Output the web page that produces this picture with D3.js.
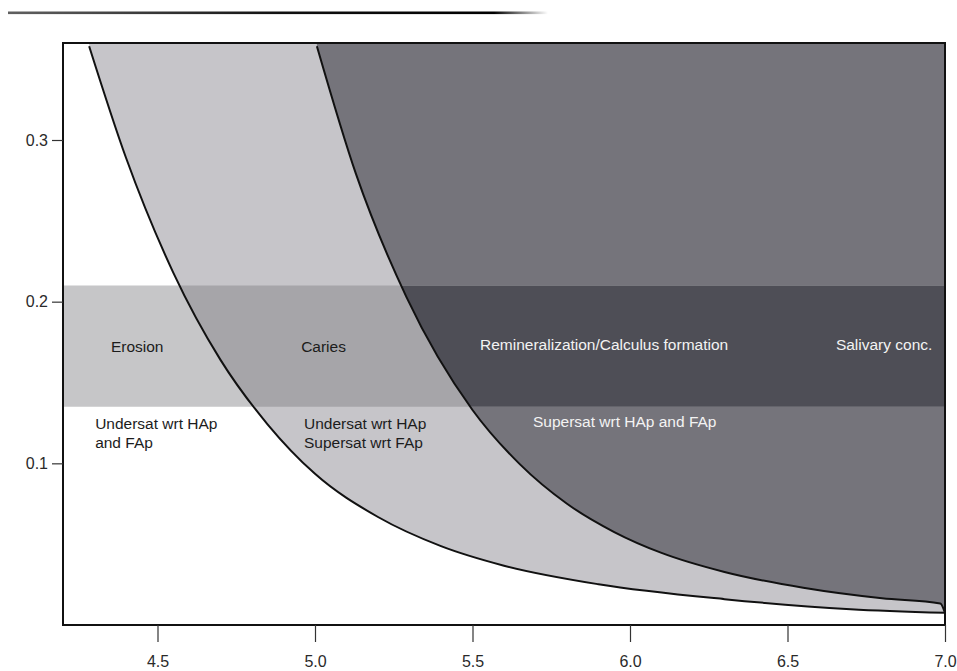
<!DOCTYPE html>
<html>
<head>
<meta charset="utf-8">
<script src="https://cdn.jsdelivr.net/npm/d3@7"></script>
<style>
  html, body { margin: 0; padding: 0; background: #ffffff; }
  svg { display: block; }
  text { font-family: "Liberation Sans", Arial, Helvetica, sans-serif; }
</style>
</head>
<body>
<svg id="chart" width="957" height="671"></svg>
<script>
// Axis ticks
const xTicks = [4.5, 5.0, 5.5, 6.0, 6.5, 7.0];
const yTicks = [0.1, 0.2, 0.3];

// Solubility isotherm of hydroxyapatite (HAp): pH vs concentration
const hapPH   = [4.283, 4.40, 4.55, 4.70, 4.85, 5.00, 5.20, 5.40, 5.60, 5.90, 6.30, 6.70, 7.00];
const hapConc = [0.358, 0.289, 0.218, 0.164, 0.124, 0.0935, 0.0668, 0.0488, 0.0367, 0.0252, 0.0160, 0.0098, 0.0075];

// Solubility isotherm of fluorapatite (FAp)
const fapPH   = [5.006, 5.13, 5.29, 5.50, 5.65, 5.80, 5.95, 6.10, 6.30, 6.55, 6.80, 6.985, 7.00];
const fapConc = [0.358, 0.279, 0.203, 0.133, 0.0995, 0.0750, 0.0575, 0.0446, 0.0328, 0.0230, 0.0165, 0.0133, 0.0075];

// Salivary concentration band
const bandRange = [0.135, 0.21];

// Region labels
const bandLabels = ["Erosion", "Caries", "Remineralization/Calculus formation", "Salivary conc."];
const leftLabel  = ["Undersat wrt HAp", "and FAp"];
const midLabel   = ["Undersat wrt HAp", "Supersat wrt FAp"];
const rightLabel = ["Supersat wrt HAp and FAp"];

const svg = d3.select("#chart");

const x = d3.scaleLinear().domain([4.2, 7.0]).range([63, 945]);
const y = d3.scaleLinear().domain([0, 0.36]).range([625, 43]);

const hap = hapPH.map((p, i) => ({ pH: p, c: hapConc[i] }));
const fap = fapPH.map((p, i) => ({ pH: p, c: fapConc[i] }));

const defs = svg.append("defs");

// Plot clip
defs.append("clipPath").attr("id", "plot-clip")
  .append("rect")
  .attr("x", x(4.2)).attr("y", y(0.36))
  .attr("width", x(7.0) - x(4.2)).attr("height", y(0) - y(0.36));

// Region above each isotherm (supersaturated side)
const above = d3.area()
  .x(d => x(d.pH))
  .y0(d => y(d.c))
  .y1(() => y(0.36))
  .curve(d3.curveMonotoneX);

const line = d3.line()
  .x(d => x(d.pH))
  .y(d => y(d.c))
  .curve(d3.curveMonotoneX);

defs.append("clipPath").attr("id", "hap-clip")
  .append("path").attr("d", above(hap));
defs.append("clipPath").attr("id", "fap-clip")
  .append("path").attr("d", above(fap));

// Faded rule at the top of the page
const grad = defs.append("linearGradient").attr("id", "rule-grad")
  .attr("x1", "0%").attr("x2", "100%");
grad.append("stop").attr("offset", "0%").attr("stop-color", "#444").attr("stop-opacity", 0.85);
grad.append("stop").attr("offset", "50%").attr("stop-color", "#111").attr("stop-opacity", 1);
grad.append("stop").attr("offset", "90%").attr("stop-color", "#000").attr("stop-opacity", 1);
grad.append("stop").attr("offset", "100%").attr("stop-color", "#000").attr("stop-opacity", 0);
svg.append("rect")
  .attr("x", 8).attr("y", 11.5).attr("width", 540).attr("height", 2.6)
  .attr("fill", "url(#rule-grad)");

const plot = svg.append("g").attr("clip-path", "url(#plot-clip)");

// Background (undersaturated w.r.t. both)
plot.append("rect")
  .attr("x", x(4.2)).attr("y", y(0.36))
  .attr("width", x(7.0) - x(4.2)).attr("height", y(0) - y(0.36))
  .attr("fill", "#ffffff");

// Between isotherms
plot.append("path").attr("d", above(hap)).attr("fill", "#c6c5c9");
// Supersaturated w.r.t. both
plot.append("path").attr("d", above(fap)).attr("fill", "#75747b");

// Salivary band, shaded per region
const bandRect = g => g.append("rect")
  .attr("x", x(4.2)).attr("y", y(bandRange[1]))
  .attr("width", x(7.0) - x(4.2))
  .attr("height", y(bandRange[0]) - y(bandRange[1]));

bandRect(plot).attr("fill", "#c6c6c8");
bandRect(plot.append("g").attr("clip-path", "url(#hap-clip)")).attr("fill", "#a6a5a9");
bandRect(plot.append("g").attr("clip-path", "url(#fap-clip)")).attr("fill", "#4e4e56");

// Isotherm lines
plot.append("path").attr("d", line(hap))
  .attr("fill", "none").attr("stroke", "#111").attr("stroke-width", 2);
plot.append("path").attr("d", line(fap))
  .attr("fill", "none").attr("stroke", "#111").attr("stroke-width", 2);

// Frame
svg.append("rect")
  .attr("x", x(4.2)).attr("y", y(0.36))
  .attr("width", x(7.0) - x(4.2)).attr("height", y(0) - y(0.36))
  .attr("fill", "none").attr("stroke", "#111").attr("stroke-width", 2);

// Axes
const xAxis = d3.axisBottom(x).tickValues(xTicks).tickFormat(d3.format(".1f"))
  .tickSize(17).tickPadding(14);
const gx = svg.append("g").attr("transform", `translate(0,${y(0)})`).call(xAxis);
gx.select(".domain").remove();
gx.selectAll(".tick line").attr("stroke", "#333").attr("stroke-width", 1.2);
gx.selectAll(".tick text").attr("font-size", 16).attr("fill", "#2a2a2a")
  .attr("font-family", "'Liberation Sans', Arial, sans-serif");

const yAxis = d3.axisLeft(y).tickValues(yTicks).tickFormat(d3.format(".1f"))
  .tickSize(11).tickPadding(4);
const gy = svg.append("g").attr("transform", `translate(${x(4.2)},0)`).call(yAxis);
gy.select(".domain").remove();
gy.selectAll(".tick line").attr("stroke", "#333").attr("stroke-width", 1.2);
gy.selectAll(".tick text").attr("font-size", 16).attr("fill", "#2a2a2a")
  .attr("font-family", "'Liberation Sans', Arial, sans-serif");

// Labels
const labels = svg.append("g").attr("font-size", 15.5);
const addText = (txt, pH, c, fill, anchor) =>
  labels.append("text")
    .attr("x", x(pH)).attr("y", y(c))
    .attr("fill", fill).attr("text-anchor", anchor || "start")
    .text(txt);

const dark = "#1c1c1c", light = "#f3f3f3";
addText(bandLabels[0], 4.352, 0.169, dark);
addText(bandLabels[1], 4.956, 0.169, dark);
addText(bandLabels[2], 5.524, 0.170, light);
addText(bandLabels[3], 6.960, 0.170, light, "end");

leftLabel.forEach((t, i) => addText(t, 4.302, 0.1212 - i * 0.0117, dark));
midLabel.forEach((t, i) => addText(t, 4.965, 0.1212 - i * 0.0117, dark));
rightLabel.forEach((t, i) => addText(t, 5.692, 0.1225 - i * 0.0117, light));
</script>
</body>
</html>
